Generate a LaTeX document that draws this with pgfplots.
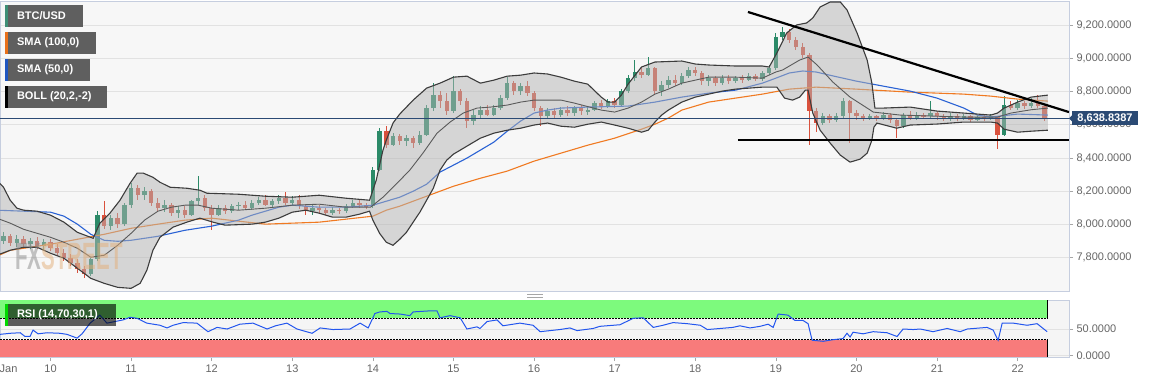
\documentclass[border=0pt]{standalone}
\usepackage{pgfplots}
\pgfplotsset{compat=1.18}
\usepackage{pgfplotstable}
\usepackage{graphicx}
\usepackage{fontspec}
\setmainfont{Liberation Sans}

\definecolor{bgc}{HTML}{F7F7F7}
\definecolor{gridc}{HTML}{E2E2E2}
\definecolor{borderc}{HTML}{C6CEDF}
\definecolor{lblc}{HTML}{666666}
\definecolor{cup}{HTML}{2B8A68}
\definecolor{cdn}{HTML}{D9513D}
\definecolor{smaA}{HTML}{F07A22}
\definecolor{smaB}{HTML}{2A62D4}
\definecolor{bandline}{HTML}{3C3C3C}
\definecolor{bandmid}{HTML}{5A5A5A}
\definecolor{bandfill}{HTML}{B4B4B4}
\definecolor{pricec}{HTML}{2B4A74}
\definecolor{legbg}{HTML}{575757}
\definecolor{rsic}{HTML}{2356EE}
\definecolor{zg}{HTML}{7DFA7D}
\definecolor{zr}{HTML}{F87B7B}
\definecolor{rsibg}{HTML}{F5F5F5}
\definecolor{barA}{HTML}{3E8E75}
\definecolor{barB}{HTML}{E8701A}
\definecolor{barC}{HTML}{1F56C0}
\definecolor{wmorange}{HTML}{E3AE78}
\definecolor{wmgray}{HTML}{8A8A8A}

% hourly index h (h=24 -> Jan 10 00:00), open high low close
\pgfplotstableread{
h o hi lo c
10 7900 7955 7880 7930
12 7930 7945 7870 7890
14 7890 7935 7865 7915
16 7915 7930 7860 7880
18 7880 7920 7850 7900
20 7900 7925 7850 7870
22 7870 7915 7845 7895
24 7895 7910 7840 7860
26 7860 7880 7810 7830
28 7830 7850 7780 7800
30 7800 7825 7750 7770
32 7770 7790 7710 7730
34 7730 7750 7680 7705
36 7705 7800 7690 7790
38 7790 8080 7780 8060
40 8060 8140 7970 7990
42 7990 8060 7965 8040
44 8040 8070 7980 8000
46 8000 8130 7990 8120
48 8120 8250 8100 8220
50 8220 8235 8150 8180
52 8180 8225 8150 8200
54 8200 8215 8110 8130
56 8130 8160 8080 8100
58 8100 8150 8075 8120
60 8120 8130 8050 8070
62 8070 8110 8040 8090
64 8090 8110 8040 8060
66 8060 8150 8050 8140
68 8140 8290 8120 8160
70 8160 8175 8080 8100
72 8100 8120 7965 8060
74 8060 8115 8050 8100
76 8100 8120 8065 8080
78 8080 8125 8070 8110
80 8110 8135 8090 8120
82 8120 8140 8085 8100
84 8100 8150 8090 8130
86 8130 8165 8115 8150
88 8150 8175 8110 8120
90 8120 8155 8100 8140
92 8140 8180 8125 8160
94 8160 8195 8120 8130
96 8130 8170 8115 8150
98 8150 8175 8095 8110
100 8110 8125 8060 8080
102 8080 8115 8060 8100
104 8100 8120 8070 8085
106 8085 8100 8055 8070
108 8070 8105 8060 8090
110 8090 8100 8065 8080
112 8080 8125 8070 8110
114 8110 8145 8100 8130
116 8130 8150 8100 8115
118 8115 8130 8095 8110
120 8110 8345 8100 8330
122 8330 8580 8320 8560
124 8560 8590 8460 8480
126 8480 8550 8470 8530
128 8530 8545 8480 8500
130 8500 8540 8470 8520
132 8520 8535 8460 8490
134 8490 8560 8480 8540
136 8540 8720 8530 8700
138 8700 8850 8680 8780
140 8780 8800 8700 8740
142 8740 8790 8660 8680
144 8680 8890 8670 8800
146 8800 8815 8720 8740
148 8740 8760 8580 8620
150 8620 8690 8600 8660
152 8660 8710 8640 8690
154 8690 8720 8650 8660
156 8660 8720 8650 8700
158 8700 8780 8690 8760
160 8760 8885 8750 8850
162 8850 8860 8780 8800
164 8800 8850 8780 8830
166 8830 8860 8770 8790
168 8790 8800 8680 8700
170 8700 8710 8590 8650
172 8650 8700 8635 8680
174 8680 8700 8640 8660
176 8660 8705 8645 8690
178 8690 8710 8650 8670
180 8670 8715 8650 8700
182 8700 8720 8660 8680
184 8680 8705 8660 8690
186 8690 8745 8680 8730
188 8730 8750 8695 8710
190 8710 8755 8700 8740
192 8740 8760 8700 8720
194 8720 8815 8710 8800
196 8800 8900 8790 8880
198 8880 8990 8860 8920
200 8920 8950 8880 8900
202 8900 9005 8890 8940
204 8940 8950 8780 8800
206 8800 8860 8770 8840
208 8840 8890 8820 8870
210 8870 8900 8830 8850
212 8850 8910 8840 8890
214 8890 8950 8880 8930
216 8930 8950 8890 8910
218 8910 8925 8840 8860
220 8860 8900 8830 8880
222 8880 8895 8830 8850
224 8850 8900 8840 8880
226 8880 8900 8845 8860
228 8860 8895 8850 8880
230 8880 8900 8850 8870
232 8870 8910 8860 8890
234 8890 8905 8860 8875
236 8875 8925 8865 8910
238 8910 8960 8900 8940
240 8940 9150 8930 9130
242 9130 9185 9110 9160
244 9160 9175 9090 9110
246 9110 9125 9050 9070
248 9070 9090 9000 9020
250 9020 9030 8480 8680
252 8680 8700 8555 8610
254 8610 8670 8600 8650
256 8650 8665 8610 8630
258 8630 8670 8615 8650
260 8650 8760 8640 8740
262 8740 8750 8490 8670
264 8670 8690 8630 8650
266 8650 8665 8625 8640
268 8640 8665 8630 8650
270 8650 8660 8625 8640
272 8640 8675 8630 8660
274 8660 8670 8610 8630
276 8630 8640 8520 8590
278 8590 8670 8580 8660
280 8660 8680 8630 8640
282 8640 8675 8630 8660
284 8660 8670 8635 8650
286 8650 8740 8640 8670
288 8670 8685 8630 8650
290 8650 8665 8620 8635
292 8635 8670 8620 8655
294 8655 8665 8625 8640
296 8640 8665 8630 8650
298 8650 8660 8615 8630
300 8630 8660 8620 8645
302 8645 8660 8625 8640
304 8640 8665 8630 8650
306 8650 8655 8455 8540
308 8540 8770 8530 8720
310 8720 8740 8690 8700
312 8700 8750 8690 8730
314 8730 8745 8695 8710
316 8710 8760 8700 8730
318 8730 8780 8700 8715
320 8715 8725 8620 8639
}\candles

\pgfplotstableread{
h v
8 8266
10 8224
12 8146
14 8098
16 8086
20 8080
24 8056
28 8014
32 7953
36.7 7917
38.7 8008
41.7 8068
44.7 8146
47.7 8248
49.8 8309
51.6 8309
54.5 8284
56.6 8254
59.6 8224
64.6 8218
68.5 8206
70.6 8188
80 8182
88 8170
96 8164
104 8176
112 8158
119 8146
121 8266
122 8357
123 8447
124 8507
126 8610
128 8664
132 8748
136 8820
140 8850
144 8886
148 8892
152 8850
156 8868
160 8892
164 8898
168 8911
172 8905
176 8886
180 8862
184 8844
188 8766
190 8736
192 8736
194 8778
196 8844
200 8947
204 8977
212 8983
216 8965
220 8959
228 8953
236 8953
238 8947
240.3 9031
242 9100
243.2 9151
246.2 9200
249.2 9212
251 9242
253.2 9308
256.2 9338
259.2 9338
261.2 9290
264.2 9151
267.2 8989
268.6 8850
269.5 8700
272 8700
280 8706
284 8694
288 8682
296 8670
304 8658
306 8670
308 8700
312 8736
316 8766
321 8778
}\bup

\pgfplotstableread{
h v
8 7815
12 7845
16 7863
20 7863
24 7827
28 7797
32 7737
36 7676
40 7646
44 7622
48 7616
50.7 7646
52.7 7725
54.5 7845
56.6 7923
60.5 7984
64.6 8014
68.5 8038
72.4 8014
76 7996
84 8002
88 8014
92 8038
96 8074
100 8086
104 8068
108 8044
112 8044
116 8062
119 8080
120 8026
122 7947
124 7893
126 7875
128 7911
130 7953
132 8014
134 8074
136 8146
138 8218
140 8327
142 8387
144 8423
148 8471
152 8519
156 8549
160 8567
164 8579
168 8598
172 8610
176 8591
180 8585
184 8603
188 8616
192 8598
196 8579
200 8555
202 8567
204 8616
206 8658
208 8688
212 8736
216 8766
220 8784
224 8802
228 8814
232 8820
236 8826
240.3 8826
242.6 8760
245 8748
247.1 8766
248.8 8808
249.6 8808
251 8670
253.2 8567
256.2 8489
259.2 8417
262.1 8375
265.1 8393
267.2 8429
268.6 8507
269.2 8585
270.1 8610
276 8579
280 8598
288 8604
296 8616
304 8616
306 8610
308 8573
312 8555
316 8561
321 8567
}\blo

% closed outline of the band: upper forward, lower backward
\pgfplotstableread{
h v
8 8266
10 8224
12 8146
14 8098
16 8086
20 8080
24 8056
28 8014
32 7953
36.7 7917
38.7 8008
41.7 8068
44.7 8146
47.7 8248
49.8 8309
51.6 8309
54.5 8284
56.6 8254
59.6 8224
64.6 8218
68.5 8206
70.6 8188
80 8182
88 8170
96 8164
104 8176
112 8158
119 8146
121 8266
122 8357
123 8447
124 8507
126 8610
128 8664
132 8748
136 8820
140 8850
144 8886
148 8892
152 8850
156 8868
160 8892
164 8898
168 8911
172 8905
176 8886
180 8862
184 8844
188 8766
190 8736
192 8736
194 8778
196 8844
200 8947
204 8977
212 8983
216 8965
220 8959
228 8953
236 8953
238 8947
240.3 9031
242 9100
243.2 9151
246.2 9200
249.2 9212
251 9242
253.2 9308
256.2 9338
259.2 9338
261.2 9290
264.2 9151
267.2 8989
268.6 8850
269.5 8700
272 8700
280 8706
284 8694
288 8682
296 8670
304 8658
306 8670
308 8700
312 8736
316 8766
321 8778
321 8567
316 8561
312 8555
308 8573
306 8610
304 8616
296 8616
288 8604
280 8598
276 8579
270.1 8610
269.2 8585
268.6 8507
267.2 8429
265.1 8393
262.1 8375
259.2 8417
256.2 8489
253.2 8567
251 8670
249.6 8808
248.8 8808
247.1 8766
245 8748
242.6 8760
240.3 8826
236 8826
232 8820
228 8814
224 8802
220 8784
216 8766
212 8736
208 8688
206 8658
204 8616
202 8567
200 8555
196 8579
192 8598
188 8616
184 8603
180 8585
176 8591
172 8610
168 8598
164 8579
160 8567
156 8549
152 8519
148 8471
144 8423
142 8387
140 8327
138 8218
136 8146
134 8074
132 8014
130 7953
128 7911
126 7875
124 7893
122 7947
120 8026
119 8080
116 8062
112 8044
108 8044
104 8068
100 8086
96 8074
92 8038
88 8014
84 8002
76 7996
72.4 8014
68.5 8038
64.6 8014
60.5 7984
56.6 7923
54.5 7845
52.7 7725
50.7 7646
48 7616
44 7622
40 7646
36 7676
32 7737
28 7797
24 7827
20 7863
16 7863
12 7845
8 7815
}\bandpoly

\pgfplotstableread{
h v
8 8038
12 8008
16 7971
20 7947
24 7923
28 7893
32 7857
36 7803
40 7815
44 7875
48 7947
52 8026
56 8080
60 8104
64 8116
68 8116
72 8098
80 8086
88 8098
96 8116
104 8122
112 8104
119.3 8104
123 8164
127.2 8248
131 8327
134.9 8429
139.1 8549
143 8616
146.9 8670
151 8700
155 8706
160 8718
164 8736
168 8748
176 8748
180 8730
188 8688
192 8676
196 8700
200 8736
204 8784
208 8814
212 8850
216 8868
220 8886
228 8886
236 8880
240 8917
242 8929
247.1 8989
249.6 9007
252.3 8959
257 8856
262.1 8766
267.2 8700
269 8676
277 8658
296 8646
306 8646
310 8670
316 8690
321 8700
}\bmid

\pgfplotstableread{
h v
8 8086
24 8074
28 8050
32 8002
36 7941
40 7905
44 7899
48 7905
56 7929
64 7965
72 7990
80 8026
84 8056
88 8080
92 8104
96 8116
104 8104
112 8104
120 8116
124 8140
128 8164
132 8200
136 8242
140 8315
144 8357
148 8399
152 8447
156 8495
160 8561
164 8622
168 8670
172 8688
176 8700
184 8706
196 8712
204 8736
212 8766
220 8790
228 8808
236 8850
240 8880
244 8911
248 8923
252 8917
256 8898
264 8862
272 8832
280 8802
288 8760
292 8730
296 8700
300 8658
304 8646
312 8664
321 8658
}\smafifty

\pgfplotstableread{
h v
8 7809
12 7845
16 7857
24 7881
32 7911
40 7941
48 7977
56 8002
64 8026
72 8038
80 8020
88 8002
96 8008
104 8014
112 8032
120 8050
124 8086
128 8110
136 8170
144 8230
152 8278
160 8321
168 8381
176 8429
184 8477
192 8519
200 8573
204 8603
208 8640
212 8688
216 8712
220 8736
228 8760
236 8784
244 8814
252 8826
264 8814
280 8796
296 8784
304 8772
312 8754
321 8742
}\smahundred

\pgfplotstableread{
h r
9 40
12 42
15 43
16.4 36
17.9 36
18.8 48
20.3 41
23 43
26.8 42
28.9 40
31.9 33
33.4 41
35.8 61
38.7 76
40.8 61
43.2 64
45.6 67
47.7 72
49.8 70
52.7 61
56.6 57
58.7 52
60.5 57
63.5 62
67.6 61
70.9 45
73.6 53
76.6 50
80.4 59
84.3 61
88.5 50
91 56
94.4 61
97.4 50
101.9 42
104.3 52
108.1 49
113.2 50
116.2 61
118.6 52
120.6 79
122.1 82
124.2 83
125.1 79
128.1 78
131 75
132 82
137 84
139.1 84
140 71
143 75
146 71
148 50
151 54
151.9 51
154 64
157 67
158.7 56
163.8 61
167.7 57
169.8 45
175.7 49
178.7 52
180.8 47
185.6 51
187.6 55
193.6 58
197.5 70
200.5 71
203.5 53
206.4 57
209.4 62
213.6 60
217.5 57
219.6 49
223.4 51
227.2 53
229.3 56
232.3 52
235.3 55
237.7 59
239.2 53
240.7 78
243.6 76
245.7 66
248.1 66
249.6 60
250.8 29
254.1 27
257 30
260 32
261.2 42
262.1 35
263 44
266 41
269 45
273.1 43
276.1 36
277.9 50
280.9 49
283 50
286.8 45
291 51
294.9 45
297 50
302.9 53
304.7 48
306.2 29
307.4 61
310.7 61
314.8 57
317.8 60
320.8 45
}\rsi

\pgfplotsset{
  candle/.style 2 args={forget plot, draw=none, mark=none,
    error bars/.cd, y dir=both, y explicit, error mark=none,
    error bar style={draw=#1, line width=#2, solid}},
}

\begin{document}
\begin{tikzpicture}
\useasboundingbox (0pt,0pt) rectangle (1153pt,383pt);
\fill[white] (0pt,0pt) rectangle (1153pt,383pt);

\begin{axis}[
  name=main, at={(0pt,92pt)}, anchor=south west,
  scale only axis, width=1069pt, height=290pt,
  xmin=8.96, xmax=327.3, ymin=7600, ymax=9344,
  axis background/.style={fill=bgc},
  axis line style={draw=borderc, line width=0.8pt},
  xtick=\empty,
  ytick={7800,8000,8200,8400,8600,8800,9000,9200},
  yticklabels={{7,800.0000},{8,000.0000},{8,200.0000},{8,400.0000},{8,600.0000},{8,800.0000},{9,000.0000},{9,200.0000}},
  ytick pos=right, yticklabel pos=right,
  tick align=outside, major tick length=4pt,
  tick style={draw=gray!70, line width=0.6pt},
  yticklabel style={font=\fontsize{11}{13}\selectfont, text=lblc},
  ymajorgrids, grid style={draw=gridc, line width=0.8pt},
  unbounded coords=discard,
]
% candles: wicks
\addplot[candle={cup}{1pt}]
  table[x=h, y expr={\thisrow{c}>=\thisrow{o} ? 0.5*(\thisrow{hi}+\thisrow{lo}) : nan},
        y error expr={0.5*(\thisrow{hi}-\thisrow{lo})}] {\candles};
\addplot[candle={cdn}{1pt}]
  table[x=h, y expr={\thisrow{c}<\thisrow{o} ? 0.5*(\thisrow{hi}+\thisrow{lo}) : nan},
        y error expr={0.5*(\thisrow{hi}-\thisrow{lo})}] {\candles};
% candles: bodies
\addplot[candle={cup}{4.4pt}]
  table[x=h, y expr={\thisrow{c}>=\thisrow{o} ? 0.5*(\thisrow{o}+\thisrow{c}) : nan},
        y error expr={max(0.5*abs(\thisrow{c}-\thisrow{o}),4)}] {\candles};
\addplot[candle={cdn}{4.4pt}]
  table[x=h, y expr={\thisrow{c}<\thisrow{o} ? 0.5*(\thisrow{o}+\thisrow{c}) : nan},
        y error expr={max(0.5*abs(\thisrow{c}-\thisrow{o}),4)}] {\candles};

% moving averages
\addplot[smaA, line width=1.1pt] table[x=h, y=v] {\smahundred};
\addplot[smaB, line width=1.1pt] table[x=h, y=v] {\smafifty};

% Bollinger band
\addplot[fill=bandfill, fill opacity=0.5, draw=none] table[x=h, y=v] {\bandpoly};
\addplot[bandline, line width=1.1pt] table[x=h, y=v] {\bup};
\addplot[bandline, line width=1.1pt] table[x=h, y=v] {\blo};
\addplot[bandmid, line width=0.9pt] table[x=h, y=v] {\bmid};

% last price line
\addplot[pricec, line width=0.9pt] coordinates {(8.96,8638.84) (327.3,8638.84)};
% trend lines
\addplot[black, line width=2.2pt] coordinates {(231.7,9278) (327.3,8676)};
\addplot[black, line width=2.2pt] coordinates {(228.7,8507) (327.3,8507)};

\coordinate (pl) at (axis cs:327.3,8638.84);
\end{axis}

\begin{axis}[
  name=rsi, at={(0pt,26pt)}, anchor=south west,
  scale only axis, width=1069pt, height=57pt,
  xmin=8.96, xmax=327.3, ymin=-2.4, ymax=104.3,
  axis background/.style={fill=rsibg},
  axis line style={draw=borderc, line width=0.8pt},
  xtick={24,48,72,96,120,144,168,192,216,240,264,288,312},
  xticklabels={10,11,12,13,14,15,16,17,18,19,20,21,22},
  extra x ticks={11.5}, extra x tick labels={Jan},
  extra x tick style={tick style={draw=none}},
  xtick pos=left, ytick pos=right,
  ytick={0,50}, yticklabels={0.0000,50.0000},
  yticklabel pos=right,
  tick align=outside, major tick length=4pt,
  tick style={draw=gray!70, line width=0.6pt},
  xticklabel style={font=\fontsize{11}{13}\selectfont, text=lblc},
  yticklabel style={font=\fontsize{11}{13}\selectfont, text=lblc},
  ymajorgrids, grid style={draw=gridc, line width=0.8pt},
]
\addplot[fill=zg, draw=none] coordinates {(8.96,70) (321,70) (321,104.3) (8.96,104.3)};
\addplot[fill=zr, draw=none] coordinates {(8.96,-2.4) (321,-2.4) (321,30) (8.96,30)};
\addplot[black, line width=0.6pt, dash pattern=on 2pt off 1pt] coordinates {(8.96,70) (321,70)};
\addplot[black, line width=0.6pt, dash pattern=on 2pt off 1pt] coordinates {(8.96,30) (321,30)};
\addplot[black, line width=0.9pt] coordinates {(321,70) (321,104.3)};
\addplot[black, line width=0.9pt] coordinates {(321,-2.4) (321,30)};
\addplot[rsic, line width=1pt] table[x=h, y=r] {\rsi};
\end{axis}

% price label on the right
\fill[pricec] (pl) -- ++(4pt,4pt) -- ++(0pt,-8pt) -- cycle;
\fill[pricec] ([xshift=3pt,yshift=-7pt]pl) rectangle ([xshift=69pt,yshift=7pt]pl);
\node[text=white, font=\bfseries\fontsize{11}{13}\selectfont, inner sep=0pt] at ([xshift=36pt]pl) {8,638.8387};

% legend boxes
\fill[legbg, opacity=0.95] (5pt,356pt) rectangle (83pt,378pt);
\fill[barA] (5pt,356pt) rectangle (7.5pt,378pt);
\node[anchor=west, text=white, font=\bfseries\fontsize{11}{13}\selectfont] at (13.5pt,367pt) {BTC/USD};
\fill[legbg, opacity=0.95] (5pt,329pt) rectangle (96pt,351pt);
\fill[barB] (5pt,329pt) rectangle (7.5pt,351pt);
\node[anchor=west, text=white, font=\bfseries\fontsize{11}{13}\selectfont] at (13.5pt,340pt) {SMA (100,0)};
\fill[legbg, opacity=0.95] (5pt,302pt) rectangle (90pt,324pt);
\fill[barC] (5pt,302pt) rectangle (7.5pt,324pt);
\node[anchor=west, text=white, font=\bfseries\fontsize{11}{13}\selectfont] at (13.5pt,313pt) {SMA (50,0)};
\fill[legbg, opacity=0.95] (5pt,275pt) rectangle (107pt,297pt);
\fill[black] (5pt,275pt) rectangle (7.5pt,297pt);
\node[anchor=west, text=white, font=\bfseries\fontsize{11}{13}\selectfont] at (13.5pt,286pt) {BOLL (20,2,-2)};

% RSI legend
\fill[black, opacity=0.62] (5pt,57pt) rectangle (116pt,79pt);
\fill[green!85!black] (5pt,57pt) rectangle (7.5pt,79pt);
\node[anchor=west, text=white, font=\bfseries\fontsize{11}{13}\selectfont] at (13.5pt,68pt) {RSI (14,70,30,1)};

% watermark
\node[opacity=0.5, inner sep=0pt, font=\bfseries\fontsize{38}{38}\selectfont] at (69pt,127pt)
  {\scalebox{0.54}[1]{\textcolor{wmgray}{FX}\textcolor{wmorange}{STREET}}};

% panel handle
\draw[gray!70, line width=0.7pt] (527pt,88.5pt) -- (543pt,88.5pt);
\draw[gray!70, line width=0.7pt] (527pt,86pt) -- (543pt,86pt);
\end{tikzpicture}
\end{document}
